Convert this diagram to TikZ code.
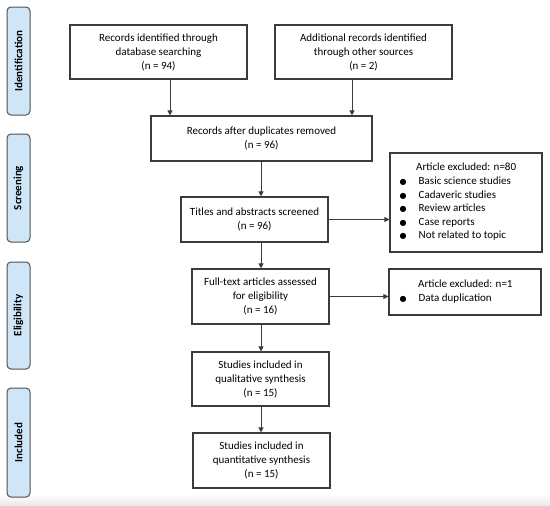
\documentclass[tikz,border=0pt]{standalone}
\usepackage{fontspec}
\setmainfont{Carlito}
\newfontfamily\symfont{DejaVu Sans}
\usetikzlibrary{arrows.meta}
\definecolor{phaseblue}{RGB}{206,230,248}
\definecolor{edge}{RGB}{60,60,60}
\newcommand{\bul}{\makebox[19pt][l]{\symfont\fontsize{8}{8}\selectfont ●}}
\begin{document}
\begin{tikzpicture}[x=1pt,y=-1pt,
  box/.style={draw=edge, line width=1.1pt, align=center, inner sep=0pt, font=\fontsize{11}{14}\selectfont},
  phase/.style={draw=edge!90, line width=1pt, fill=phaseblue, rounded corners=4pt, minimum height=23pt, inner sep=0pt, font=\bfseries\fontsize{11}{13}\selectfont, rotate=90},
  listline/.style={inner sep=0pt, anchor=base west, font=\fontsize{11}{13.5}\selectfont},
  arr/.style={-{Triangle[length=5pt,width=5pt]}, line width=1pt, draw=edge}]
\useasboundingbox (0,0) rectangle (550,506);
\shade[top color=white, bottom color=black!9] (0,494) rectangle (550,506);

% phase labels
\node[phase, minimum width=108pt] (pid) at (18.5,61) {Identification};
\node[phase, minimum width=108pt] (psc) at (18.5,188) {Screening};
\node[phase, minimum width=107pt] (pel) at (18.5,315.5) {Eligibility};
\node[phase, minimum width=109pt] (pin) at (18.5,442.5) {Included};

% main boxes
\node[box, minimum width=177pt, minimum height=54pt] (b1) at (158.5,52) {Records identified through\\database searching\\(n = 94)};
\node[box, minimum width=177pt, minimum height=54pt] (b2) at (363.5,52) {Additional records identified\\through other sources\\(n = 2)};
\node[box, minimum width=221pt, minimum height=45pt] (b3) at (261.5,138.5) {Records after duplicates removed\\(n = 96)};
\node[box, minimum width=147pt, minimum height=45pt] (b4) at (254.5,219.5) {Titles and abstracts screened\\(n = 96)};
\node[box, minimum width=137pt, minimum height=55pt] (b5) at (260.5,296.5) {Full-text articles assessed\\for eligibility\\(n = 16)};
\node[box, minimum width=137pt, minimum height=54pt] (b6) at (260.5,379) {Studies included in\\qualitative synthesis\\(n = 15)};
\node[box, minimum width=137pt, minimum height=55pt] (b7) at (261.5,460.5) {Studies included in\\quantitative synthesis\\(n = 15)};

% exclusion boxes
\node[box, minimum width=152pt, minimum height=99pt] (e1) at (466,202.5) {};
\node[listline] (h1) at (416,170.5) {Article excluded: n=80};
\node[listline] (l1a) at (399.5,184.5) {\bul Basic science studies};
\node[listline] (l1b) at (399.5,198) {\bul Cadaveric studies};
\node[listline] (l1c) at (399.5,211.5) {\bul Review articles};
\node[listline] (l1d) at (399.5,225) {\bul Case reports};
\node[listline] (l1e) at (399.5,238.5) {\bul Not related to topic};

\node[box, minimum width=152pt, minimum height=46pt] (e2) at (465,292) {};
\node[listline] (h2) at (418,287.5) {Article excluded: n=1};
\node[listline] (l2a) at (399.5,301) {\bul Data duplication};

% connectors
\coordinate (x1) at (170,0);
\coordinate (x2) at (352,0);
\coordinate (xc) at (261,0);
\draw[arr] (b1.south -| x1) -- (b3.north -| x1);
\draw[arr] (b2.south -| x2) -- (b3.north -| x2);
\draw[arr] (b3.south -| xc) -- (b4.north -| xc);
\draw[arr] (b4.east) -- (b4.east -| e1.west);
\draw[arr] (b4.south -| xc) -- (b5.north -| xc);
\draw[arr] (b5.east) -- (b5.east -| e2.west);
\draw[arr] (b5.south -| xc) -- (b6.north -| xc);
\draw[arr] (b6.south -| xc) -- (b7.north -| xc);
\end{tikzpicture}
\end{document}
